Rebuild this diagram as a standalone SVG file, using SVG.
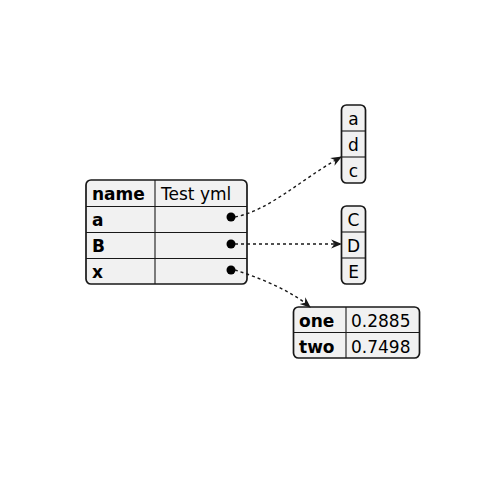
<svg xmlns="http://www.w3.org/2000/svg" width="480" height="480" viewBox="0 0 480 480">
<style>
.box{fill:#F1F1F1;stroke:#181818;stroke-width:1.7}
.ln{stroke:#181818;stroke-width:1.1}
.t{font-family:"DejaVu Sans",sans-serif;font-size:17px;fill:#000}
.b{font-weight:bold}
.c{stroke:#181818;stroke-width:1.4;fill:none;stroke-dasharray:3 3}
</style>
<defs>
<marker id="ah" viewBox="0 0 10 10" refX="9" refY="5" markerWidth="11" markerHeight="11" markerUnits="userSpaceOnUse" orient="auto">
<path d="M0,1 L10,5 L0,9 L3,5 Z" fill="#181818"/>
</marker>
</defs>
<g id="root">
<rect class="box" x="86" y="180" width="161" height="104" rx="5"/>
<line class="ln" x1="155" y1="180" x2="155" y2="284"/>
<line class="ln" x1="86" y1="206.5" x2="247" y2="206.5"/>
<line class="ln" x1="86" y1="232.5" x2="247" y2="232.5"/>
<line class="ln" x1="86" y1="258.5" x2="247" y2="258.5"/>
<text class="t b" x="92" y="200">name</text>
<text class="t" x="161" y="200">Test yml</text>
<text class="t b" x="92" y="226">a</text>
<text class="t b" x="92" y="252">B</text>
<text class="t b" x="92" y="278">x</text>
<circle cx="231" cy="217" r="4.5" fill="#000"/>
<circle cx="231" cy="244" r="4.5" fill="#000"/>
<circle cx="231" cy="270" r="4.5" fill="#000"/>
</g>
<g id="arr1">
<rect class="box" x="341.5" y="105" width="24" height="78" rx="5"/>
<line class="ln" x1="341.5" y1="131" x2="365.5" y2="131"/>
<line class="ln" x1="341.5" y1="157" x2="365.5" y2="157"/>
<text class="t" x="353.5" y="125" text-anchor="middle">a</text>
<text class="t" x="353.5" y="151" text-anchor="middle">d</text>
<text class="t" x="353.5" y="177" text-anchor="middle">c</text>
</g>
<g id="arr2">
<rect class="box" x="341.5" y="206" width="24" height="78" rx="5"/>
<line class="ln" x1="341.5" y1="232" x2="365.5" y2="232"/>
<line class="ln" x1="341.5" y1="258" x2="365.5" y2="258"/>
<text class="t" x="353.5" y="226" text-anchor="middle">C</text>
<text class="t" x="353.5" y="252" text-anchor="middle">D</text>
<text class="t" x="353.5" y="278" text-anchor="middle">E</text>
</g>
<g id="map">
<rect class="box" x="293.5" y="307" width="126" height="51" rx="5"/>
<line class="ln" x1="346" y1="307" x2="346" y2="358"/>
<line class="ln" x1="293.5" y1="332.5" x2="419.5" y2="332.5"/>
<text class="t b" x="299" y="327">one</text>
<text class="t" x="351" y="327">0.2885</text>
<text class="t b" x="299" y="353">two</text>
<text class="t" x="351" y="353">0.7498</text>
</g>
<g id="connectors">
<path class="c" d="M235,217 C270,210 300,180 341,157" marker-end="url(#ah)"/>
<path class="c" d="M235,244 L341,244" marker-end="url(#ah)"/>
<path class="c" d="M235,270 C260,278 290,290 310,307" marker-end="url(#ah)"/>
</g>
</svg>
